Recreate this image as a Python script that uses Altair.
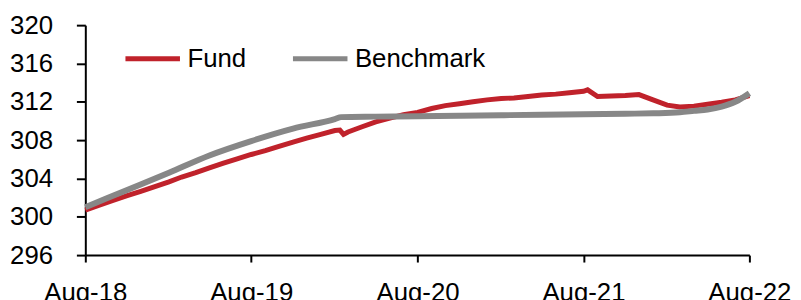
import altair as alt
import pandas as pd

# Fund (red) - monthly readings, with a few extra points for visible kinks
fund_dates = [
    "2018-08-01", "2018-09-01", "2018-10-01", "2018-11-01", "2018-12-01",
    "2019-01-01", "2019-02-01", "2019-03-01", "2019-04-01", "2019-05-01",
    "2019-06-01", "2019-07-01", "2019-08-01", "2019-09-01", "2019-10-01",
    "2019-11-01", "2019-12-01", "2020-01-01", "2020-02-01", "2020-02-12",
    "2020-02-20", "2020-03-01", "2020-04-01", "2020-05-01", "2020-06-01",
    "2020-07-01", "2020-08-01", "2020-09-01", "2020-10-01", "2020-11-01",
    "2020-12-01", "2021-01-01", "2021-02-01", "2021-03-01", "2021-04-01",
    "2021-05-01", "2021-06-01", "2021-07-01", "2021-08-01", "2021-08-10",
    "2021-09-01", "2021-10-01", "2021-11-01", "2021-12-01", "2022-01-01",
    "2022-02-01", "2022-03-01", "2022-04-01", "2022-05-01", "2022-06-01",
    "2022-07-01", "2022-08-01",
]
fund_values = [
    300.7, 301.2, 301.7, 302.2, 302.65,
    303.15, 303.65, 304.15, 304.6, 305.1,
    305.6, 306.05, 306.5, 306.9, 307.35,
    307.8, 308.2, 308.6, 309.0, 309.05,
    308.6, 308.85, 309.4, 309.9, 310.3,
    310.65, 310.9, 311.3, 311.6, 311.8,
    312.0, 312.2, 312.35, 312.4, 312.55,
    312.7, 312.8, 312.95, 313.1, 313.25,
    312.55, 312.6, 312.65, 312.75, 312.2,
    311.65, 311.45, 311.55, 311.75, 311.95,
    312.2, 312.65,
]

# Benchmark (grey) - monthly readings
bench_dates = [
    "2018-08-01", "2018-11-01", "2019-02-01", "2019-05-01", "2019-08-01",
    "2019-11-01", "2020-02-01", "2020-02-15", "2020-05-01", "2020-08-01",
    "2020-11-01", "2021-02-01", "2021-05-01", "2021-08-01", "2021-11-01",
    "2022-01-01", "2022-03-01", "2022-04-01", "2022-05-01", "2022-06-01",
    "2022-07-01", "2022-08-01",
]
bench_values = [
    301.0, 302.8, 304.6, 306.4, 307.9,
    309.2, 310.2, 310.4, 310.45, 310.5,
    310.55, 310.6, 310.65, 310.7, 310.75,
    310.8, 310.9, 311.05, 311.2, 311.5,
    312.0, 312.9,
]

series_names = ["Fund", "Benchmark"]
series_colors = ["#C0222B", "#878787"]
y_ticks = [296, 300, 304, 308, 312, 316, 320]
x_tick_years = [2018, 2019, 2020, 2021, 2022]

fund_df = pd.DataFrame({"date": fund_dates, "value": fund_values, "series": "Fund"})
bench_df = pd.DataFrame({"date": bench_dates, "value": bench_values, "series": "Benchmark"})

font = "Liberation Sans"

x_enc = alt.X(
    "date:T",
    scale=alt.Scale(type="utc", domain=[alt.DateTime(year=2018, month=8, date=1, utc=True),
                                        alt.DateTime(year=2022, month=8, date=1, utc=True)]),
    axis=alt.Axis(
        values=[alt.DateTime(year=y, month=8, date=1, utc=True) for y in x_tick_years],
        labelExpr="utcFormat(datum.value, '%b-%y')", title=None, grid=False,
        tickSize=7, labelPadding=18, labelFontSize=26, labelFont=font,
        labelColor="#000000", domainColor="#000000", tickColor="#000000",
        domainWidth=2, tickWidth=2, labelFlush=False, labelOverlap=False,
    ),
)
y_enc = alt.Y(
    "value:Q",
    scale=alt.Scale(domain=[296, 320], nice=False, zero=False),
    axis=alt.Axis(
        values=y_ticks, title=None, grid=False, tickSize=9, labelPadding=24,
        labelFontSize=26, labelFont=font, labelColor="#000000",
        domainColor="#000000", tickColor="#000000", domainWidth=2, tickWidth=2,
    ),
)
color_enc = alt.Color(
    "series:N",
    scale=alt.Scale(domain=series_names, range=series_colors),
    legend=alt.Legend(
        title=None, orient="none", direction="horizontal", legendX=38, legendY=4,
        symbolType="stroke", symbolSize=3025, symbolStrokeWidth=5,
        labelFontSize=26, labelFont=font, labelColor="#000000",
        columnPadding=36, labelOffset=5, padding=0,
    ),
)

fund_line = alt.Chart(fund_df).mark_line(strokeWidth=5).encode(x=x_enc, y=y_enc, color=color_enc)
bench_line = alt.Chart(bench_df).mark_line(strokeWidth=6, interpolate="monotone").encode(
    x=x_enc, y=y_enc, color=color_enc)

chart = (
    alt.layer(fund_line, bench_line)
    .properties(
        width=670, height=232,
        padding={"left": 78, "top": 16, "right": 44, "bottom": 44},
        autosize=alt.AutoSizeParams(type="none"),
    )
    .configure_view(stroke=None)
)

chart.save("out.html", embed_options={"renderer": "svg", "actions": False})
